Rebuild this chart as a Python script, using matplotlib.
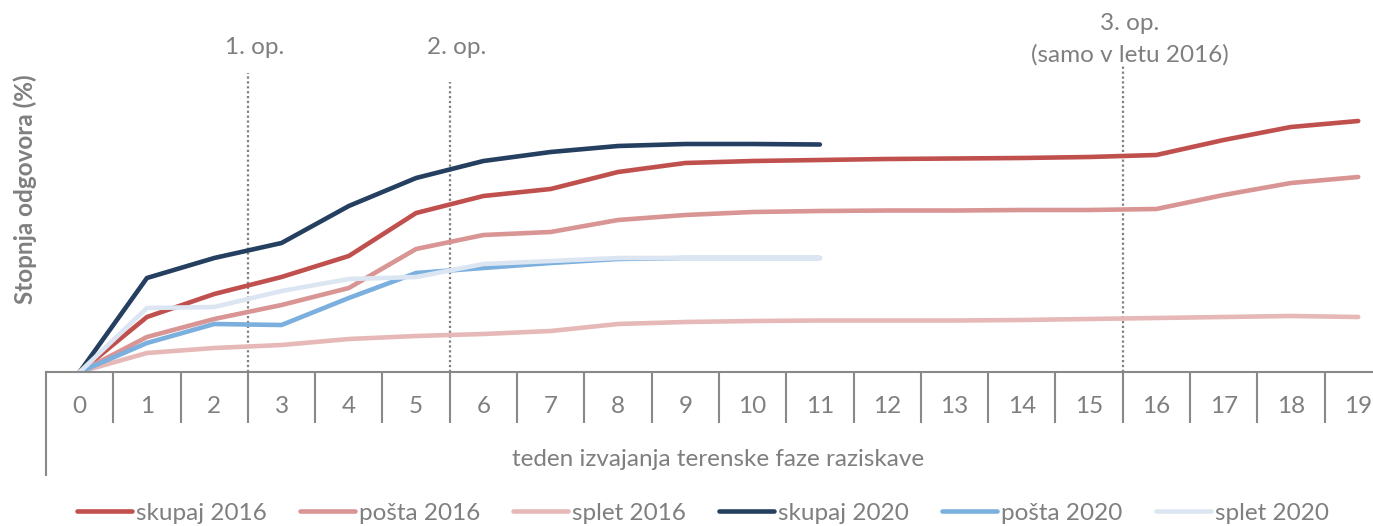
import numpy as np
import matplotlib
matplotlib.use("Agg")
import matplotlib.pyplot as plt
from matplotlib.lines import Line2D

plt.rcParams['font.family'] = ['Lato', 'DejaVu Sans']

weeks = list(range(20))
week_labels = [str(w) for w in weeks]

skupaj_2016 = [0, 11.0, 15.6, 19.0, 23.2, 31.8, 35.2, 36.6, 40.0, 41.8, 42.2, 42.4, 42.6, 42.7, 42.8, 43.0, 43.4, 46.4, 49.0, 50.2]
posta_2016 = [0, 7.0, 10.6, 13.4, 16.8, 24.6, 27.4, 28.0, 30.4, 31.4, 32.0, 32.2, 32.3, 32.3, 32.4, 32.4, 32.6, 35.4, 37.8, 39.0]
splet_2016 = [0, 3.8, 4.8, 5.4, 6.6, 7.2, 7.6, 8.2, 9.6, 10.0, 10.2, 10.3, 10.3, 10.3, 10.4, 10.6, 10.8, 11.0, 11.2, 11.0]
skupaj_2020 = [0, 18.8, 22.8, 25.8, 33.2, 38.8, 42.2, 44.0, 45.2, 45.6, 45.6, 45.5]
posta_2020 = [0, 5.8, 9.6, 9.4, 14.8, 19.8, 20.8, 21.8, 22.6, 22.8, 22.8, 22.8]
splet_2020 = [0, 12.8, 13.0, 16.2, 18.6, 19.0, 21.6, 22.2, 22.8, 22.8, 22.8, 22.8]

series = [
    ("skupaj 2016", skupaj_2016, "#C0504D"),
    ("pošta 2016", posta_2016, "#D99594"),
    ("splet 2016", splet_2016, "#E6B9B8"),
    ("skupaj 2020", skupaj_2020, "#243F60"),
    ("pošta 2020", posta_2020, "#7BAFDE"),
    ("splet 2020", splet_2020, "#DCE6F2"),
]

# reminders: position between weeks, top of dotted line
reminder_x = [2.5, 5.5, 15.5]
reminder_top = [59.8, 58.0, 61.4]
# label texts with their vertical centres
reminder_labels = [(2.6, 64.8, "1. op."), (5.6, 64.8, "2. op."),
                   (15.6, 69.8, "3. op."), (15.6, 63.4, "(samo v letu 2016)")]

grey = "#7F7F7F"
W, H = 1373, 526
fig = plt.figure(figsize=(W / 100, H / 100), dpi=100)
ax = fig.add_axes([46 / W, (H - 372) / H, 1 - 46 / W, (372 - 22) / H])

for name, vals, col in series:
    ax.plot(weeks[:len(vals)], vals, color=col, lw=3.3, label=name,
            solid_capstyle='round', solid_joinstyle='round')

for xr, top in zip(reminder_x, reminder_top):
    ax.plot([xr, xr], [0, top], color=grey, lw=1.6, ls=(0, (1, 1.2)), zorder=1)
for xt, yt, txt in reminder_labels:
    ax.text(xt, yt, txt, ha='center', va='center', color=grey,
            fontsize=17.5, clip_on=False)

ax.set_xlim(-0.5, 19.22)
ax.set_ylim(0, 70)
for s in ['top', 'right', 'left']:
    ax.spines[s].set_visible(False)
ax.spines['bottom'].set_color("#898989")
ax.spines['bottom'].set_linewidth(1.5)
ax.set_yticks([])

ax.set_xticks(weeks)
ax.set_xticklabels(week_labels)
ax.tick_params(axis='x', which='major', length=0, pad=17, labelsize=17.5, labelcolor=grey)
ax.set_xticks(np.arange(0.5, 19.5, 1.0), minor=True)
ax.tick_params(axis='x', which='minor', length=37, width=1.5, color="#898989", direction='out')

# left border of the category axis
ax.add_line(Line2D([0, 0], [0, -103 / 350], transform=ax.transAxes, color="#898989",
                   lw=1.5, clip_on=False))

ax.set_ylabel("Stopnja odgovora (%)", color=grey, fontsize=17.5, fontweight='bold')
ax.yaxis.set_label_coords(-9 / 1327, 0.523)
fig.text(718 / W, 1 - 460 / H, "teden izvajanja terenske faze raziskave", ha='center',
         va='center', color=grey, fontsize=17.5)

fig.legend(loc='center', bbox_to_anchor=(703 / W, 1 - 513 / H), ncol=6, frameon=False,
           fontsize=17.5, handlelength=2.26, handletextpad=0.17, columnspacing=1.36,
           labelcolor=grey)

fig.savefig("out.png", dpi=100)
